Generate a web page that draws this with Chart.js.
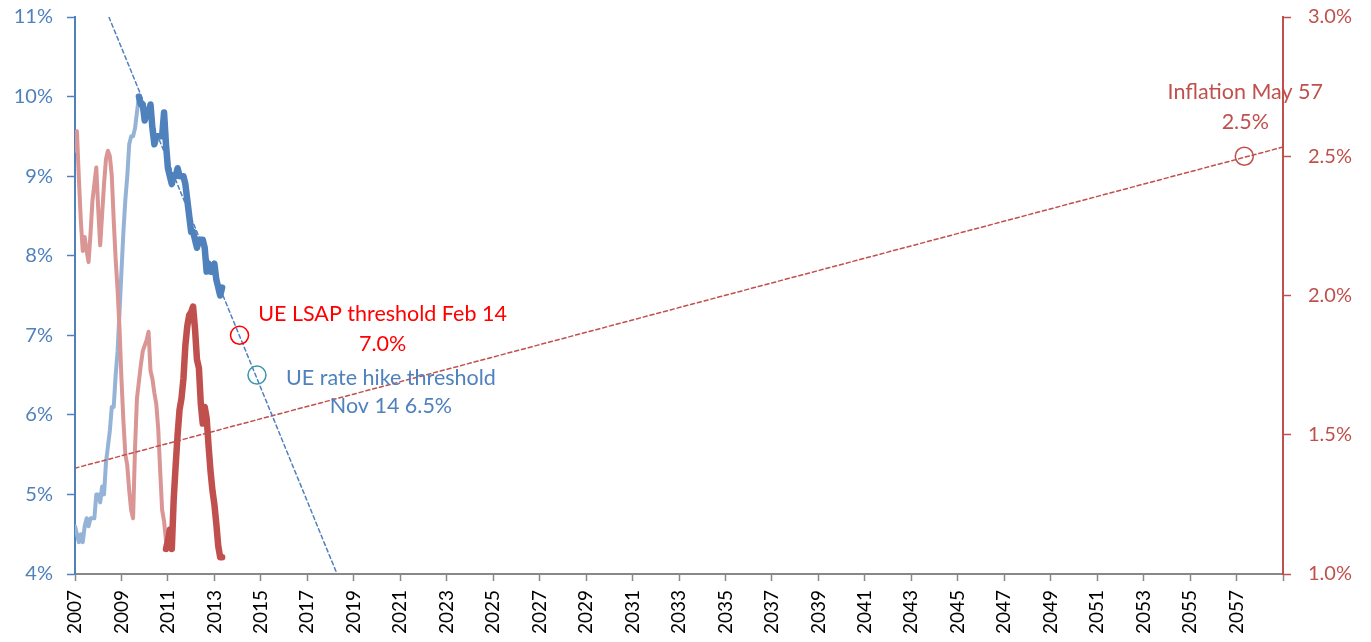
<!DOCTYPE html>
<html><head><meta charset="utf-8">
<script src="https://cdn.jsdelivr.net/npm/chart.js@4.4.1/dist/chart.umd.min.js"></script>
<style>html,body{margin:0;padding:0;background:#fff;overflow:hidden}#c{display:block}</style>
</head><body>
<canvas id="c" width="1371" height="642"></canvas>
<script>
// ---------- DATA ----------
const startYear = 2007; // monthly series start Jan 2007
// Unemployment rate (%), Jan 2007 - May 2013 (left axis)
const unemployment = [
  4.6,4.5,4.4,4.5,4.4,4.6,4.7,4.6,4.7,4.7,4.7,5.0,
  5.0,4.9,5.1,5.0,5.4,5.6,5.8,6.1,6.1,6.5,6.8,7.3,
  7.8,8.3,8.7,9.0,9.4,9.5,9.5,9.6,9.8,10.0,9.9,9.9,
  9.7,9.8,9.8,9.9,9.6,9.4,9.5,9.5,9.5,9.5,9.8,9.4,
  9.1,9.0,8.9,9.0,9.0,9.1,9.0,9.0,9.0,8.9,8.7,8.5,
  8.3,8.3,8.2,8.1,8.2,8.2,8.2,8.1,7.8,7.9,7.8,7.8,
  7.9,7.7,7.6,7.5,7.6
];
const ueSplitIndex = 33; // Oct 2009: light -> dark
// Inflation (%), right axis; early segment from Jan 2007
const inflationEarly = [
  2.52,2.59,2.42,2.27,2.16,2.21,2.16,2.12,2.22,2.34,2.40,2.46,
  2.31,2.18,2.29,2.40,2.49,2.52,2.50,2.43,2.27,2.13,2.02,1.88,
  1.70,1.55,1.43,1.39,1.30,1.23,1.20,1.45,1.63,1.69,1.75,1.80,
  1.82,1.84,1.87,1.73,1.70,1.65,1.61,1.52,1.37,1.23,1.19,1.12
];
const inflationLateStartIndex = 47; // Dec 2010
const inflationLate = [
  1.09,1.12,1.16,1.09,1.27,1.39,1.50,1.59,1.63,1.70,1.82,1.89,1.93,1.94,1.96,
  1.88,1.77,1.74,1.61,1.54,1.60,1.56,1.46,1.37,1.30,1.25,1.18,1.10,1.06,1.06
];
// Trend lines (year, value)
const ueTrendYears = [2008.46, 2018.28];
const ueTrendValues = [11.0, 4.0];
const inflTrendYears = [2007, 2059];
const inflTrendValues = [1.38, 2.533];
// Threshold markers
const markerYears = [2014.083, 2014.833, 2057.333];
const markerValues = [7.0, 6.5, 2.5];
const markerLabels = [["UE LSAP threshold Feb 14","7.0%"],["UE rate hike threshold","Nov 14 6.5%"],["Inflation May 57","2.5%"]];
// Axis ticks
const xTickYears = [2007,2009,2011,2013,2015,2017,2019,2021,2023,2025,2027,2029,2031,2033,2035,2037,2039,2041,2043,2045,2047,2049,2051,2053,2055,2057];
const xMin = 2007, xMax = 2059;
const leftTicks = [4,5,6,7,8,9,10,11];
const rightTicks = [1.0,1.5,2.0,2.5,3.0];

// ---------- BUILD ----------
const monthly = (arr, offset) => arr.map((v, i) => ({x: startYear + (offset + i) / 12, y: v}));
const pairs = (xs, ys) => xs.map((x, i) => ({x, y: ys[i]}));

const FONT = 'Lato, "Open Sans", sans-serif';
const C_BLUE = '#4F81BD', C_LBLUE = '#95B3D7', C_RED = '#C0504D', C_LRED = '#DA9694';

const datasets = [
  {label:'UE early', data: monthly(unemployment.slice(0, ueSplitIndex + 1), 0), yAxisID:'yL', borderColor:C_LBLUE, borderWidth:4, order:6},
  {label:'UE late', data: monthly(unemployment.slice(ueSplitIndex), ueSplitIndex), yAxisID:'yL', borderColor:C_BLUE, borderWidth:6.5, order:2},
  {label:'UE trend', data: pairs(ueTrendYears, ueTrendValues), yAxisID:'yL', borderColor:C_BLUE, borderWidth:1.5, borderDash:[4,3], order:3},
  {label:'Infl early', data: monthly(inflationEarly, 0), yAxisID:'yR', borderColor:C_LRED, borderWidth:4, order:5},
  {label:'Infl late', data: monthly(inflationLate, inflationLateStartIndex), yAxisID:'yR', borderColor:C_RED, borderWidth:6.5, order:1},
  {label:'Infl trend', data: pairs(inflTrendYears, inflTrendValues), yAxisID:'yR', borderColor:C_RED, borderWidth:1.5, borderDash:[4,3], order:4},
  {label:'LSAP', type:'scatter', data:[{x:markerYears[0], y:markerValues[0]}], yAxisID:'yL', pointRadius:9, pointBorderColor:'#FF0000', pointBackgroundColor:'rgba(0,0,0,0)', pointBorderWidth:1.5, order:0},
  {label:'Hike', type:'scatter', data:[{x:markerYears[1], y:markerValues[1]}], yAxisID:'yL', pointRadius:9, pointBorderColor:'#3C97A8', pointBackgroundColor:'rgba(0,0,0,0)', pointBorderWidth:1.5, order:0},
  {label:'Infl', type:'scatter', data:[{x:markerYears[2], y:markerValues[2]}], yAxisID:'yR', pointRadius:9, pointBorderColor:C_RED, pointBackgroundColor:'rgba(0,0,0,0)', pointBorderWidth:1.5, order:0}
];
datasets.forEach(d => { if (!d.type) { d.pointRadius = 0; d.tension = 0; d.fill = false; d.borderJoinStyle = 'round'; d.borderCapStyle = 'round'; } });

const labelStyles = [
  {color:'#FF0000', dx:143, dy:[-21, 9], axis:'yL'},
  {color:C_BLUE, dx:134, dy:[3, 31], axis:'yL'},
  {color:C_RED, dx:1, dy:[-64, -34], axis:'yR'}
];
const annotationPlugin = {
  id: 'annot',
  afterDatasetsDraw(chart) {
    const ctx = chart.ctx;
    ctx.save();
    ctx.font = '21.5px ' + FONT;
    ctx.textAlign = 'center';
    ctx.textBaseline = 'middle';
    markerLabels.forEach((lines, i) => {
      const s = labelStyles[i];
      const px = chart.scales.x.getPixelForValue(markerYears[i]);
      const py = chart.scales[s.axis].getPixelForValue(markerValues[i]);
      ctx.fillStyle = s.color;
      lines.forEach((t, j) => ctx.fillText(t, px + s.dx, py + s.dy[j]));
    });
    ctx.restore();
  }
};

const fitY = w => s => { s.width = w; s.paddingTop = 0; s.paddingBottom = 0; };

new Chart(document.getElementById('c'), {
  type: 'line',
  data: { datasets },
  plugins: [annotationPlugin],
  options: {
    responsive: false,
    animation: false,
    events: [],
    layout: { padding: { top: 17, left: 0, right: 0, bottom: 0 } },
    plugins: { legend: {display:false}, tooltip: {enabled:false} },
    scales: {
      x: {
        type: 'linear', min: xMin, max: xMax,
        afterFit: s => { s.height = 68; s.paddingLeft = 0; s.paddingRight = 0; },
        afterBuildTicks: s => { s.ticks = xTickYears.concat([xMax]).map(v => ({value: v})); },
        border: { color:'#888888', width:2 },
        grid: { drawOnChartArea:false, drawTicks:true, tickLength:7, color:'#888888', tickWidth:1.5 },
        ticks: { minRotation:90, maxRotation:90, autoSkip:false, padding:9, color:'#000000', font:{family:FONT, size:19},
          callback: v => xTickYears.includes(v) ? String(v) : '' }
      },
      yL: {
        type: 'linear', position: 'left', min: 4, max: 11,
        afterFit: fitY(75),
        afterBuildTicks: s => { s.ticks = leftTicks.map(v => ({value: v})); },
        border: { color:C_BLUE, width:2 },
        grid: { drawOnChartArea:false, tickLength:8, color:C_BLUE, tickWidth:1.5 },
        ticks: { padding:14, color:C_BLUE, font:{family:FONT, size:20}, callback: v => v + '%' }
      },
      yR: {
        type: 'linear', position: 'right', min: 1, max: 3,
        afterFit: fitY(88),
        afterBuildTicks: s => { s.ticks = rightTicks.map(v => ({value: v})); },
        border: { color:C_RED, width:2 },
        grid: { drawOnChartArea:false, tickLength:8, color:C_RED, tickWidth:1.5 },
        ticks: { padding:17, color:C_RED, font:{family:FONT, size:20}, callback: v => v.toFixed(1) + '%' }
      }
    }
  }
});
</script>
</body></html>
